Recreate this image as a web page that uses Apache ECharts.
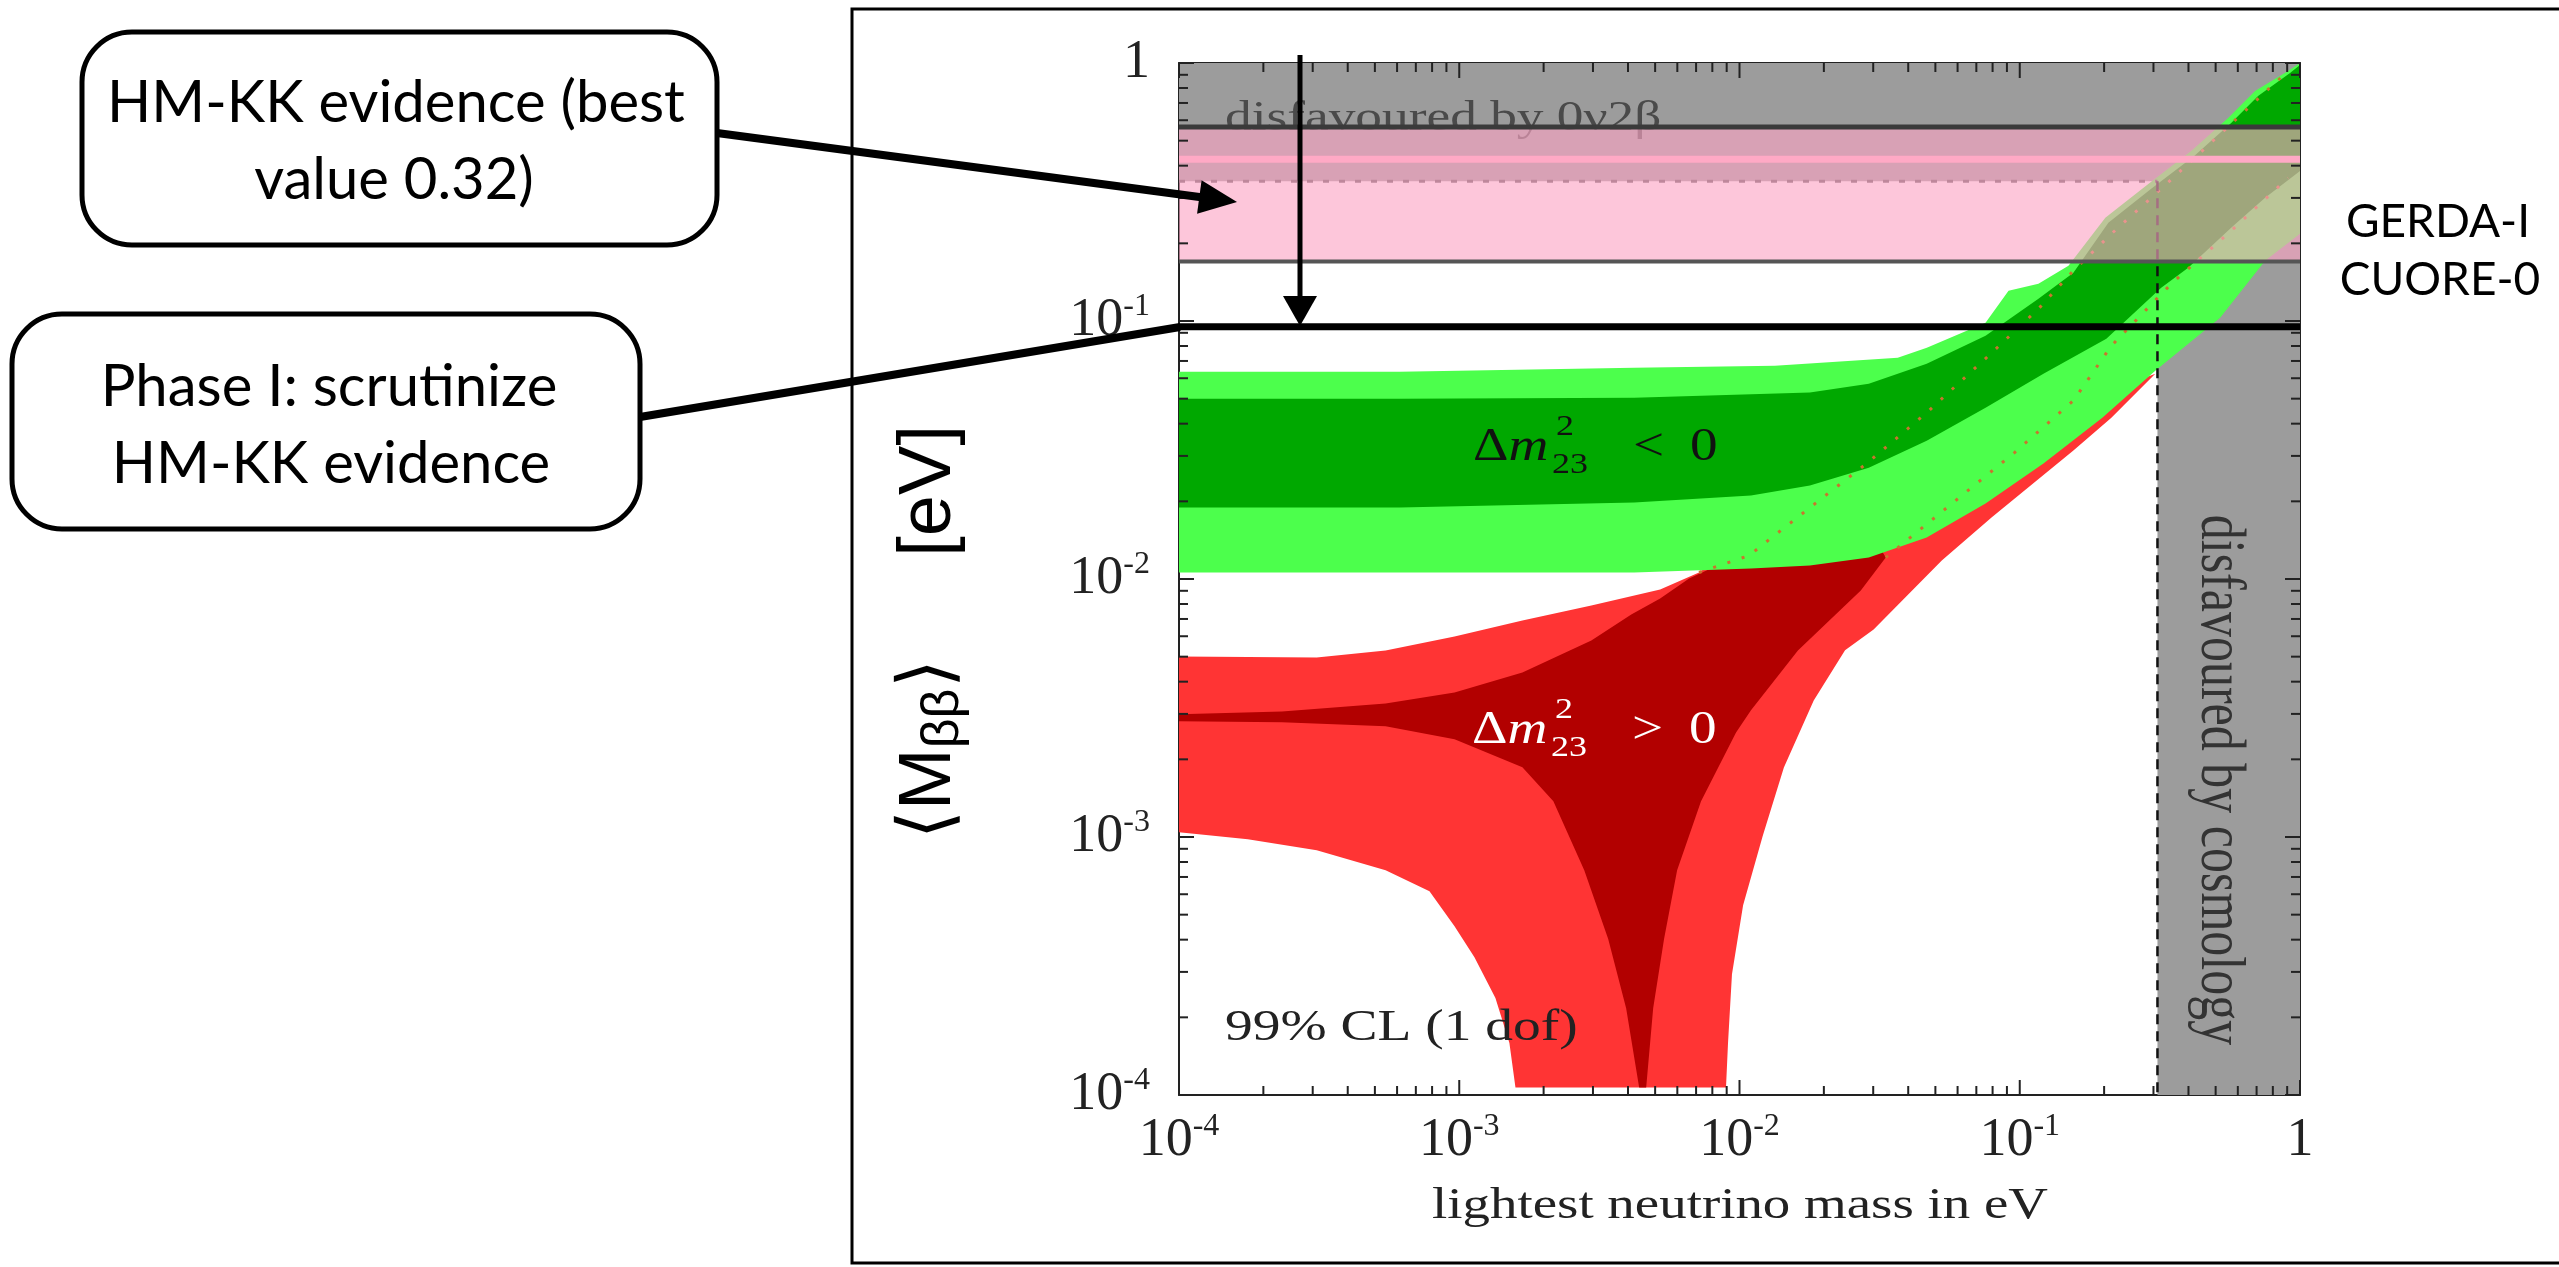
<!DOCTYPE html>
<html>
<head>
<meta charset="utf-8">
<title>Effective Majorana mass vs lightest neutrino mass</title>
<script src="https://cdn.jsdelivr.net/npm/echarts@6.0.0/dist/echarts.min.js"></script>
<style>
html,body{margin:0;padding:0;background:#ffffff;}
#chart{width:2559px;height:1267px;}
</style>
</head>
<body>
<div id="chart"></div>
<script>
// ---------- axes ----------
const axisRange = [1e-4, 1];
const majorTicks = [1e-4, 1e-3, 1e-2, 1e-1, 1];
const minorSteps = [2, 3, 4, 5, 6, 7, 8, 9];

// ---------- bands and reference lines (values in eV) ----------
const zeroNuBand = [0.348, 1];      // <M> disfavoured by 0v2b (y range)
const hmkkBand = [0.17, 0.565];     // HM-KK evidence (y range)
const hmkkStripe = 0.424;
const cosmoBand = [0.31, 1];        // lightest mass disfavoured by cosmology (x range)
const phaseILine = 0.095;           // GERDA-I / CUORE-0 sensitivity

// ---------- inverted hierarchy (dm2_23 < 0) ----------
const ihLightUpper = [[1e-4,0.0636],[6.13e-4,0.0636],[4.21e-3,0.0659],[0.01338,0.0671],[0.0367,0.0721],[0.0466,0.0788],[0.0755,0.0985],[0.0912,0.131],[0.1166,0.1394],[0.1492,0.1637],[0.202,0.2511],[0.2875,0.34],[0.409,0.4562],[0.5541,0.6124],[0.6912,0.7791],[0.9064,0.9312],[1,1]];
const ihLightLower = [[1e-4,0.0106],[4.21e-3,0.0106],[0.01099,0.01098],[0.01783,0.01128],[0.02893,0.01211],[0.04655,0.01448],[0.07551,0.01961],[0.1215,0.02801],[0.1971,0.0422],[0.3045,0.06418],[0.5189,0.1029],[0.7507,0.1711],[1,0.2177]];
const ihDarkUpper = [[1e-4,0.05],[6.13e-4,0.05],[4.21e-3,0.05045],[0.01783,0.0528],[0.02893,0.0571],[0.04655,0.0683],[0.07551,0.0877],[0.1166,0.122],[0.1554,0.1537],[0.2071,0.2402],[0.2945,0.3252],[0.4193,0.4364],[0.5679,0.5856],[0.7085,0.7452],[0.9213,0.9147],[1,0.982]];
const ihDarkLower = [[1e-4,0.01891],[6.13e-4,0.01891],[4.21e-3,0.01978],[0.01099,0.02105],[0.01783,0.02302],[0.02893,0.02702],[0.04655,0.03438],[0.07551,0.04613],[0.1215,0.06248],[0.2037,0.08537],[0.3197,0.1345],[0.3991,0.1608],[0.5679,0.2297],[0.7507,0.3001],[1,0.3818]];

// ---------- normal hierarchy (dm2_23 > 0), closed outlines ----------
const nhLightOutline = [[1e-4,0.005012],[3.10e-4,0.004966],[5.46e-4,0.005286],[9.62e-4,0.005989],[1.68e-3,0.006908],[2.96e-3,0.007894],[5.21e-3,0.009107],[7.17e-3,0.0106],[0.0163,0.0201],[0.0558,0.0315],[0.1908,0.0514],[0.3045,0.0625],[0.2123,0.0422],[0.1554,0.0315],[0.0793,0.0173],[0.0527,0.0118],[0.0301,0.00637],[0.0238,0.00529],[0.0184,0.00338],[0.0144,0.00186],[0.0121,0.00101],[0.0103,5.44e-4],[9.40e-3,2.94e-4],[9.10e-3,1.59e-4],[8.95e-3,1.07e-4],[1.587e-3,1.07e-4],[1.51e-3,1.59e-4],[1.346e-3,2.375e-4],[1.133e-3,3.42e-4],[9.62e-4,4.51e-4],[7.83e-4,6.16e-4],[5.46e-4,7.43e-4],[3.10e-4,8.88e-4],[1.76e-4,9.80e-4],[1e-4,1.043e-3]];
const nhDarkOutline = [[1e-4,0.002988],[2.33e-4,0.003068],[5.46e-4,0.003295],[9.62e-4,0.003634],[1.68e-3,0.004345],[2.96e-3,0.005779],[4.11e-3,0.007288],[5.21e-3,0.008403],[6.61e-3,0.01005],[8.18e-3,0.01118],[0.0163,0.01409],[0.0314,0.01348],[0.03325,0.01211],[0.02709,0.00903],[0.01616,0.005286],[0.01099,0.003096],[9.72e-3,0.002544],[7.29e-3,0.001375],[5.99e-3,7.43e-4],[5.38e-3,4.02e-4],[4.92e-3,2.17e-4],[4.645e-3,1.07e-4],[4.385e-3,1.07e-4],[3.94e-3,2.17e-4],[3.40e-3,4.02e-4],[2.793e-3,7.43e-4],[2.167e-3,0.001375],[1.68e-3,0.001863],[9.62e-4,0.00239],[5.46e-4,0.002684],[2.33e-4,0.002782],[1e-4,0.002807]];

// NH band edges continuing underneath the IH band (dotted)
const nhDotUpper = [[7.17e-3,0.0106],[0.01081,0.01233],[0.01783,0.01891],[0.02869,0.02826],[0.04655,0.04413],[0.07739,0.07335],[0.1166,0.1115],[0.1528,0.1537],[0.2123,0.2177],[0.2945,0.3001],[0.3991,0.4064],[0.6528,0.6694],[0.9064,0.9312]];
const nhDotLower = [[0.03325,0.01211],[0.05904,0.02014],[0.09578,0.0309],[0.1554,0.04912],[0.2123,0.08017],[0.3473,0.1394],[0.5679,0.2237],[0.9064,0.3587]];

// ---------- render helpers ----------
function polyRender(points, fill) {
  return function (params, api) {
    if (params.dataIndex !== 0) return null;
    return { type: 'polygon', shape: { points: points.map(p => api.coord(p)) }, style: { fill: fill } };
  };
}
function lineRender(points, style) {
  return function (params, api) {
    if (params.dataIndex !== 0) return null;
    return { type: 'polyline', shape: { points: points.map(p => api.coord(p)) }, style: Object.assign({ fill: null }, style) };
  };
}
function outline(upper, lower) { return upper.concat(lower.slice().reverse()); }
function rectPts(x0, x1, y0, y1) { return [[x0, y0], [x1, y0], [x1, y1], [x0, y1]]; }

function customSeries(name, points, render, z) {
  return { type: 'custom', name: name, data: points, encode: { x: 0, y: 1 }, renderItem: render, z: z, silent: true, clip: true };
}

const allTicks = [];
majorTicks.forEach(v => allTicks.push({ v: v, major: true }));
majorTicks.slice(0, -1).forEach(d => minorSteps.forEach(m => allTicks.push({ v: d * m, major: false })));

function tickRender(params, api) {
  if (params.dataIndex !== 0) return null;
  const children = [];
  const st = { stroke: '#222', lineWidth: 2 };
  const add = (x1, y1, x2, y2) => children.push({ type: 'line', shape: { x1, y1, x2, y2 }, style: st });
  allTicks.forEach(t => {
    const len = t.major ? 15 : 9;
    const pb = api.coord([t.v, axisRange[0]]), pt = api.coord([t.v, axisRange[1]]);
    add(pb[0], pb[1], pb[0], pb[1] - len);
    add(pt[0], pt[1], pt[0], pt[1] + len);
    const pl = api.coord([axisRange[0], t.v]), pr = api.coord([axisRange[1], t.v]);
    add(pl[0], pl[1], pl[0] + len, pl[1]);
    add(pr[0], pr[1], pr[0] - len, pr[1]);
  });
  return { type: 'group', children: children };
}

function powLabel(v) {
  const e = Math.round(Math.log10(v));
  return e === 0 ? '{b|1}' : '{b|10}{s|' + e + '}';
}
const labelRich = {
  b: { fontFamily: 'Liberation Serif', fontSize: 54, lineHeight: 60, color: '#222' },
  s: { fontFamily: 'Liberation Serif', fontSize: 32, lineHeight: 32, verticalAlign: 'top', color: '#222' }
};
function logAxis(pos, showLabel, margin) {
  return {
    type: 'log', logBase: 10, min: axisRange[0], max: axisRange[1], position: pos,
    axisLine: { show: true, lineStyle: { color: '#222', width: 2 } },
    axisTick: { show: false }, minorTick: { show: false }, splitLine: { show: false },
    axisLabel: { show: showLabel, formatter: powLabel, rich: labelRich, margin: margin, showMinLabel: true, showMaxLabel: true }
  };
}

// ---------- graphic helpers (annotations) ----------
function txt(text, x, y, o) {
  return {
    type: 'text', x: x, y: y, z: o.z === undefined ? 15 : o.z, silent: true,
    scaleX: o.sx || 1, scaleY: o.sy || 1, rotation: o.rot || 0,
    style: {
      text: text, fill: o.color || '#222', fontSize: o.size, fontFamily: o.family || 'Liberation Serif',
      fontStyle: o.italic ? 'italic' : 'normal',
      align: o.align || 'left', textAlign: o.align || 'left',
      verticalAlign: 'middle', textVerticalAlign: 'middle', rich: o.rich
    }
  };
}
function arrowHead(x0, y0, x1, y1, len, hw) {
  const dx = x1 - x0, dy = y1 - y0, L = Math.hypot(dx, dy), ux = dx / L, uy = dy / L;
  const bx = x1 - ux * len, by = y1 - uy * len;
  return [[x1, y1], [bx - uy * hw, by + ux * hw], [bx + uy * hw, by - ux * hw]];
}
function arrow(x0, y0, x1, y1, w, len, hw) {
  const L = Math.hypot(x1 - x0, y1 - y0);
  const ex = x1 - (x1 - x0) / L * len * 0.7, ey = y1 - (y1 - y0) / L * len * 0.7;
  return [
    { type: 'line', z: 20, silent: true, shape: { x1: x0, y1: y0, x2: ex, y2: ey }, style: { stroke: '#000', lineWidth: w } },
    { type: 'polygon', z: 20, silent: true, shape: { points: arrowHead(x0, y0, x1, y1, len, hw) }, style: { fill: '#000' } }
  ];
}
function deltaLabel(x, base, sign, color, z) {
  const f = { color: color, z: z, sx: 1.2 };
  const mid = base - 15;
  return [
    txt('{d|Δ}{m|m}', x, mid, Object.assign({ size: 46, rich: {
      d: { fontFamily: 'Liberation Serif', fontSize: 46, fill: color, color: color },
      m: { fontFamily: 'Liberation Serif', fontSize: 46, fontStyle: 'italic', fill: color, color: color } } }, f)),
    txt('2', x + 83, base - 36, Object.assign({ size: 30 }, f)),
    txt('23', x + 79, base + 2, Object.assign({ size: 30 }, f)),
    txt(sign, x + 160, mid, Object.assign({ size: 46 }, f)),
    txt('0', x + 217, mid, Object.assign({ size: 46 }, f))
  ];
}

const boxFont = { size: 58, family: 'Lato', color: '#000', align: 'center', z: 21 };
const graphics = [].concat(
  [{ type: 'rect', z: 0, silent: true, shape: { x: 852, y: 9, width: 1800, height: 1254 }, style: { fill: null, stroke: '#000', lineWidth: 3 } }],
  // annotation boxes
  [{ type: 'rect', z: 20, silent: true, shape: { x: 82, y: 32, width: 635, height: 213, r: 50 }, style: { fill: '#fff', stroke: '#000', lineWidth: 5 } },
   { type: 'rect', z: 20, silent: true, shape: { x: 12, y: 314, width: 628, height: 215, r: 50 }, style: { fill: '#fff', stroke: '#000', lineWidth: 5 } }],
  [txt('HM-KK evidence (best', 396, 103, boxFont),
   txt('value 0.32)', 394, 180, boxFont),
   txt('Phase I: scrutinize', 329, 387, boxFont),
   txt('HM-KK evidence', 331, 464, boxFont),
   txt('GERDA-I', 2438, 222, { size: 46, family: 'Lato', color: '#000', align: 'center', z: 21 }),
   txt('CUORE-0', 2440, 280, { size: 46, family: 'Lato', color: '#000', align: 'center', z: 21 })],
  arrow(717, 133, 1237, 202, 8, 38, 17),
  arrow(1300, 55, 1300, 326, 5, 30, 17),
  [{ type: 'line', z: 20, silent: true, shape: { x1: 640, y1: 417, x2: 1180, y2: 327 }, style: { stroke: '#000', lineWidth: 8 } }],
  // axis titles
  [txt('{a|⟨M}{s|ββ}{a|⟩     [eV]}', 930, 632, { size: 74, family: 'Liberation Sans', color: '#000', align: 'center', rot: Math.PI / 2, z: 21,
      rich: { a: { fontFamily: 'Liberation Sans', fontSize: 74, lineHeight: 80, fill: '#000', color: '#000' },
              s: { fontFamily: 'Liberation Sans', fontSize: 52, lineHeight: 52, verticalAlign: 'bottom', fill: '#000', color: '#000' } } }),
   txt('lightest neutrino mass in eV', 1740, 1206, { size: 45, align: 'center', sx: 1.22, color: '#222' })],
  // in-plot labels
  [txt('disfavoured by 0ν2β', 1225, 119, { size: 42, sx: 1.27, color: '#4a4a4a', z: 6 }),
   txt('99% CL (1 dof)', 1225, 1028, { size: 44, sx: 1.26, color: '#222', z: 15 }),
   txt('disfavoured by cosmology', 2218, 780, { size: 50, sy: 1.25, align: 'center', rot: -Math.PI / 2, color: '#333', z: 15 })],
  deltaLabel(1473, 463, '<', '#111', 15),
  deltaLabel(1472, 746, '>', '#ffffff', 15)
);

const chart = echarts.init(document.getElementById('chart'), null, { renderer: 'canvas' });
chart.setOption({
  backgroundColor: '#ffffff',
  animation: false,
  grid: { left: 1179, top: 63, width: 1121, height: 1032, containLabel: false },
  xAxis: [logAxis('bottom', true, 16), logAxis('top', false, 8)],
  yAxis: [logAxis('left', true, 29), logAxis('right', false, 8)],
  series: [
    customSeries('cosmology', rectPts(cosmoBand[0], cosmoBand[1], axisRange[0], axisRange[1]), polyRender(rectPts(cosmoBand[0], cosmoBand[1], axisRange[0], axisRange[1]), '#9c9c9c'), 1),
    customSeries('0v2b', rectPts(axisRange[0], axisRange[1], zeroNuBand[0], zeroNuBand[1]), polyRender(rectPts(axisRange[0], axisRange[1], zeroNuBand[0], zeroNuBand[1]), '#9c9c9c'), 1),
    customSeries('NH light', nhLightOutline, polyRender(nhLightOutline, '#ff3434'), 2),
    customSeries('NH dark', nhDarkOutline, polyRender(nhDarkOutline, '#b20000'), 3),
    customSeries('IH light', ihLightUpper, polyRender(outline(ihLightUpper, ihLightLower), '#4cff4c'), 4),
    customSeries('IH dark', ihDarkUpper, polyRender(outline(ihDarkUpper, ihDarkLower), '#00a800'), 5),
    customSeries('NH edge 1', nhDotUpper, lineRender(nhDotUpper, { stroke: '#c9742e', lineWidth: 3, lineDash: [3, 12] }), 5.5),
    customSeries('NH edge 2', nhDotLower, lineRender(nhDotLower, { stroke: '#c9742e', lineWidth: 3, lineDash: [3, 12] }), 5.5),
    customSeries('0v2b edge', [[axisRange[0], zeroNuBand[0]], [cosmoBand[0], zeroNuBand[0]]], lineRender([[axisRange[0], zeroNuBand[0]], [cosmoBand[0], zeroNuBand[0]]], { stroke: '#555', lineWidth: 3, lineDash: [6, 10] }), 5.6),
    customSeries('cosmo edge', [[cosmoBand[0], zeroNuBand[0]], [cosmoBand[0], axisRange[0]]], lineRender([[cosmoBand[0], zeroNuBand[0]], [cosmoBand[0], axisRange[0]]], { stroke: '#111', lineWidth: 2.5, lineDash: [10, 7] }), 5.6),
    customSeries('HM-KK', rectPts(axisRange[0], axisRange[1], hmkkBand[0], hmkkBand[1]), polyRender(rectPts(axisRange[0], axisRange[1], hmkkBand[0], hmkkBand[1]), 'rgba(252,165,196,0.63)'), 7),
    customSeries('HM-KK stripe', [[axisRange[0], hmkkStripe], [axisRange[1], hmkkStripe]], lineRender([[axisRange[0], hmkkStripe], [axisRange[1], hmkkStripe]], { stroke: '#ffa9c5', lineWidth: 7 }), 8),
    customSeries('HM-KK upper', [[axisRange[0], hmkkBand[1]], [axisRange[1], hmkkBand[1]]], lineRender([[axisRange[0], hmkkBand[1]], [axisRange[1], hmkkBand[1]]], { stroke: '#3a3a3a', lineWidth: 5 }), 8),
    customSeries('HM-KK lower', [[axisRange[0], hmkkBand[0]], [axisRange[1], hmkkBand[0]]], lineRender([[axisRange[0], hmkkBand[0]], [axisRange[1], hmkkBand[0]]], { stroke: '#555', lineWidth: 4 }), 8),
    customSeries('Phase I', [[axisRange[0], phaseILine], [axisRange[1], phaseILine]], lineRender([[axisRange[0], phaseILine], [axisRange[1], phaseILine]], { stroke: '#000', lineWidth: 7 }), 9),
    customSeries('ticks', [[axisRange[0], axisRange[0]]], tickRender, 12)
  ],
  graphic: graphics
});
</script>
</body>
</html>
